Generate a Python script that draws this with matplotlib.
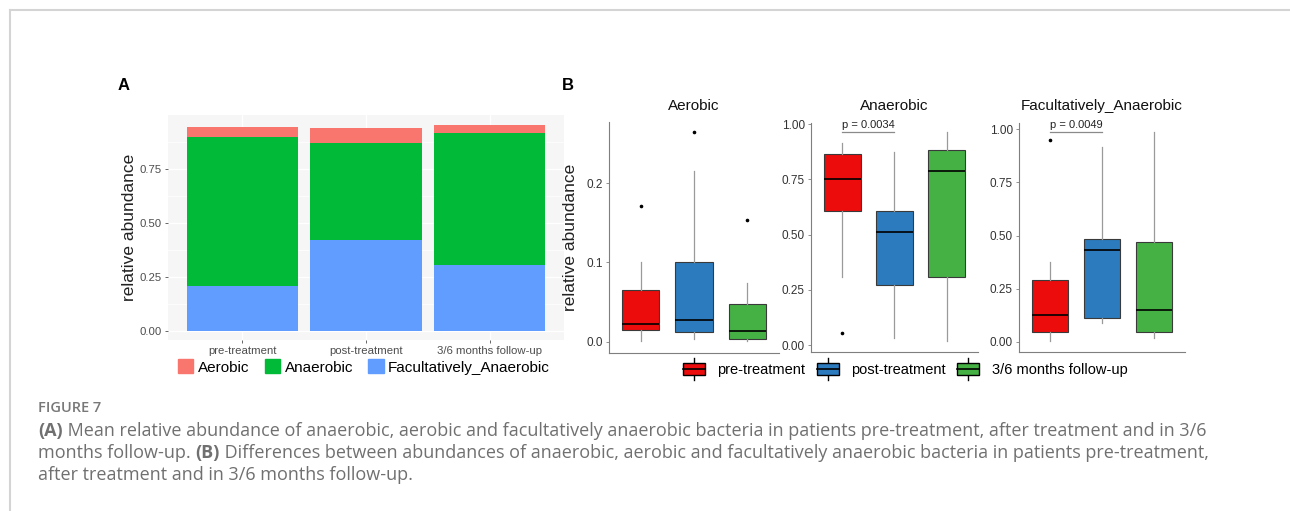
import matplotlib
matplotlib.use("Agg")
import matplotlib.pyplot as plt
from matplotlib.patches import Patch, Rectangle
from matplotlib.lines import Line2D
from matplotlib.legend_handler import HandlerBase

plt.rcParams['font.family'] = ['Liberation Sans', 'DejaVu Sans']

groups = ["pre-treatment", "post-treatment", "3/6 months follow-up"]
types = ["Aerobic", "Anaerobic", "Facultatively_Anaerobic"]

# panel A - mean relative abundance per group
mean_aerobic = [0.043, 0.069, 0.034]
mean_anaerobic = [0.690, 0.450, 0.611]
mean_facult = [0.208, 0.420, 0.305]

# panel B - boxplot summaries per group: [whisker low, q1, median, q3, whisker high]
aerobic_box = [[0.001, 0.015, 0.022, 0.065, 0.101],
               [0.004, 0.012, 0.027, 0.100, 0.215],
               [0.001, 0.003, 0.014, 0.047, 0.074]]
aerobic_out = [[0.171], [0.265], [0.153]]
anaerobic_box = [[0.307, 0.609, 0.754, 0.865, 0.917],
                 [0.033, 0.273, 0.511, 0.609, 0.876],
                 [0.018, 0.307, 0.790, 0.885, 0.964]]
anaerobic_out = [[0.053], [], []]
facult_box = [[0.003, 0.044, 0.124, 0.290, 0.377],
              [0.087, 0.110, 0.433, 0.484, 0.915],
              [0.016, 0.044, 0.149, 0.468, 0.986]]
facult_out = [[0.950], [], []]
p_values = ["", "p = 0.0034", "p = 0.0049"]

stack_cols = ["#F8766D", "#00BA38", "#619CFF"]
box_cols = ["#EC0C0C", "#2C7BBE", "#45B145"]

W, H = 1290, 511
fig = plt.figure(figsize=(W / 100, H / 100), dpi=100)


def px_axes(x0, y0, x1, y1):
    # pixel box (top-left origin) -> figure axes
    return fig.add_axes([x0 / W, 1 - y1 / H, (x1 - x0) / W, (y1 - y0) / H])


# ---------- panel A ----------
axA = px_axes(168, 115, 564, 340)
axA.set_facecolor("#F6F6F6")
xs = range(len(groups))
axA.bar(xs, mean_facult, width=0.9, color=stack_cols[2], zorder=2)
bottom2 = [f + a for f, a in zip(mean_facult, mean_anaerobic)]
axA.bar(xs, mean_anaerobic, width=0.9, bottom=mean_facult, color=stack_cols[1], zorder=2)
axA.bar(xs, mean_aerobic, width=0.9, bottom=bottom2, color=stack_cols[0], zorder=2)
axA.set_xlim(-0.6, 2.6)
axA.set_ylim(-0.042, 0.998)
axA.set_yticks([0, 0.25, 0.5, 0.75])
axA.set_yticklabels(["0.00", "0.25", "0.50", "0.75"])
axA.set_yticks([0.125, 0.375, 0.625, 0.875], minor=True)
axA.set_xticks(list(xs))
axA.set_xticklabels(groups)
axA.grid(True, which="major", color="white", lw=1.0, zorder=0)
axA.grid(True, which="minor", axis="y", color="white", lw=0.5, zorder=0)
axA.tick_params(axis="both", labelsize=8.2, colors="#4D4D4D", length=2.5, width=0.6, pad=2)
axA.tick_params(axis="y", which="minor", length=0)
for s in axA.spines.values():
    s.set_visible(False)
axA.set_ylabel("relative abundance", fontsize=12.5, color="#222222", labelpad=2)

fig.legend(handles=[Patch(color=c, label=t) for c, t in zip(stack_cols, types)],
           loc="center", bbox_to_anchor=(364 / W, 1 - 367 / H), ncol=3, frameon=False,
           fontsize=11, handlelength=1.0, handleheight=1.0, handletextpad=0.3,
           columnspacing=1.0, borderaxespad=0, borderpad=0)

fig.text(118 / W, 1 - 86 / H, "A", fontsize=12, fontweight="bold", va="center")
fig.text(562 / W, 1 - 86 / H, "B", fontsize=12, fontweight="bold", va="center")

# ---------- panel B ----------
boxes = [aerobic_box, anaerobic_box, facult_box]
outs = [aerobic_out, anaerobic_out, facult_out]
boxes_px = [(609, 122, 779, 352.7), (811, 122.7, 978, 351.7), (1019, 122.7, 1185, 351.7)]
ylims = [(-0.0139, 0.277), (-0.030, 1.007), (-0.047, 1.031)]
yticks = [[0, 0.1, 0.2], [0, 0.25, 0.5, 0.75, 1.0], [0, 0.25, 0.5, 0.75, 1.0]]
ytl = [["0.0", "0.1", "0.2"], ["0.00", "0.25", "0.50", "0.75", "1.00"],
       ["0.00", "0.25", "0.50", "0.75", "1.00"]]

for k in range(3):
    ax = px_axes(*boxes_px[k])
    stats = []
    for g in range(3):
        lo, q1, med, q3, hi = boxes[k][g]
        stats.append(dict(whislo=lo, q1=q1, med=med, q3=q3, whishi=hi, fliers=outs[k][g]))
    bp = ax.bxp(stats, positions=[1, 2, 3], widths=0.7, showcaps=False, patch_artist=True,
                boxprops=dict(edgecolor="#3A3A3A", lw=0.8),
                whiskerprops=dict(color="#9A9A9A", lw=0.9),
                medianprops=dict(color="black", lw=1.2),
                flierprops=dict(marker="o", markersize=1.6, markerfacecolor="black",
                                markeredgecolor="black"))
    for patch, c in zip(bp["boxes"], box_cols):
        patch.set_facecolor(c)
    ax.set_xlim(0.4, 3.6)
    ax.set_ylim(*ylims[k])
    ax.set_yticks(yticks[k])
    ax.set_yticklabels(ytl[k])
    ax.set_xticks([])
    for s in ["top", "right"]:
        ax.spines[s].set_visible(False)
    for s in ["left", "bottom"]:
        ax.spines[s].set_color("#7F7F7F")
        ax.spines[s].set_linewidth(0.8)
    ax.tick_params(axis="y", labelsize=8.5, colors="#7F7F7F", labelcolor="#333333",
                   length=2.5, width=0.6, pad=2)
    ax.set_title(types[k], fontsize=11, color="#111111", pad=9)
    if p_values[k]:
        ytop = max(b[4] for b in boxes[k])
        ax.plot([1, 2], [ytop, ytop], color="#8A8A8A", lw=0.9)
        ax.text(1.5, ytop + 0.012, p_values[k], ha="center", va="bottom", fontsize=8,
                color="#222222")
    if k == 0:
        ax.set_ylabel("relative abundance", fontsize=12.5, color="#222222", labelpad=6)


class BoxKey(HandlerBase):
    def create_artists(self, legend, orig, xd, yd, w, h, fontsize, trans):
        x0, y0 = -xd, -yd
        cx = x0 + w / 2
        arts = [Line2D([cx, cx], [y0 + h, y0 + h * 1.4], color="black", lw=1, transform=trans),
                Line2D([cx, cx], [y0 - h * 0.4, y0], color="black", lw=1, transform=trans),
                Rectangle((x0, y0), w, h, facecolor=orig.get_facecolor(), edgecolor="black",
                          lw=1, transform=trans),
                Line2D([x0, x0 + w], [y0 + h / 2] * 2, color="black", lw=1.2, transform=trans)]
        return arts


hb = [Patch(facecolor=c, label=g) for c, g in zip(box_cols, groups)]
fig.legend(handles=hb, loc="center", bbox_to_anchor=(905 / W, 1 - 370 / H), ncol=3,
           frameon=False, fontsize=10.5, handlelength=1.5, handleheight=0.95,
           handletextpad=0.85, columnspacing=0.8, borderaxespad=0, borderpad=0,
           handler_map={Patch: BoxKey()})

# ---------- frame and caption ----------
fig.add_artist(Line2D([10 / W, 1], [1 - 10.5 / H] * 2, color="#D4D4D4", lw=1.5))
fig.add_artist(Line2D([10 / W, 10 / W], [0, 1 - 10.5 / H], color="#D4D4D4", lw=1.5))

cap_col = "#707070"
cap_font = ["Open Sans", "DejaVu Sans"]
cap_size = 13.0
fig.text(38 / W, 1 - 408 / H, "FIGURE 7", fontsize=10.5, color="#787878", va="center",
         family=cap_font, fontweight="semibold")

lines = [[("(A)", "bold"), (" Mean relative abundance of anaerobic, aerobic and facultatively anaerobic "
                            "bacteria in patients pre-treatment, after treatment and in 3/6", "normal")],
         [("months follow-up. ", "normal"), ("(B)", "bold"),
          (" Differences between abundances of anaerobic, aerobic and facultatively anaerobic "
           "bacteria in patients pre-treatment,", "normal")],
         [("after treatment and in 3/6 months follow-up.", "normal")]]
line_y = [436, 458, 480]
renderer = fig.canvas.get_renderer()
for ly, parts in zip(line_y, lines):
    x = 38
    for txt, wt in parts:
        t = fig.text(x / W, 1 - ly / H, txt, fontsize=cap_size, color=cap_col,
                     fontweight=wt, va="baseline", family=cap_font)
        # width including a trailing space, measured with a placeholder glyph
        probe = fig.text(0, 0, txt + "|", fontsize=cap_size, fontweight=wt, family=cap_font)
        bar = fig.text(0, 0, "|", fontsize=cap_size, fontweight=wt, family=cap_font)
        x += probe.get_window_extent(renderer).width - bar.get_window_extent(renderer).width
        probe.remove()
        bar.remove()

fig.savefig("out.png", dpi=100)
